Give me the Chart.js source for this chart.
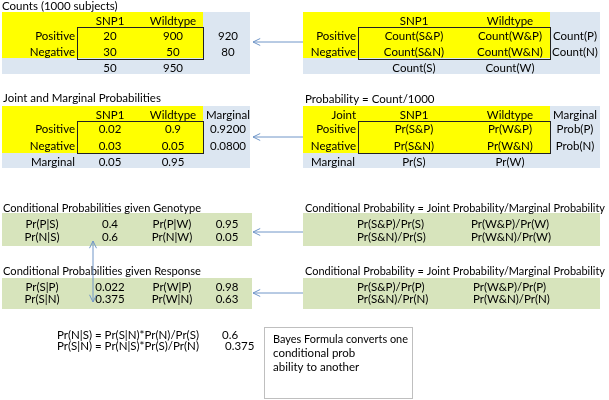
<!DOCTYPE html>
<html><head><meta charset="utf-8">
<script src="https://cdn.jsdelivr.net/npm/chart.js@4"></script>
<style>html,body{margin:0;padding:0;background:#fff}#wrap{width:609px;height:400px}</style>
</head><body><div id="wrap"><canvas id="c" width="609" height="400"></canvas></div>
<script>
// ---- data ----
const genotypes = ['SNP1', 'Wildtype'];
const responses = ['Positive', 'Negative'];
const counts = [[20, 900], [30, 50]];
const countRowTotals = ['920', '80'];
const countColTotals = ['50', '950'];
const jointProbs = [['0.02', '0.9'], ['0.03', '0.05']];
const marginalResponse = ['0.9200', '0.0800'];
const marginalGenotype = ['0.05', '0.95'];
const countSymbols = [['Count(S&P)', 'Count(W&P)'], ['Count(S&N)', 'Count(W&N)']];
const countRowSymbols = ['Count(P)', 'Count(N)'];
const countColSymbols = ['Count(S)', 'Count(W)'];
const probSymbols = [['Pr(S&P)', 'Pr(W&P)'], ['Pr(S&N)', 'Pr(W&N)']];
const probRowSymbols = ['Prob(P)', 'Prob(N)'];
const probColSymbols = ['Pr(S)', 'Pr(W)'];
const condGenotypeLabels = [['Pr(P|S)', 'Pr(P|W)'], ['Pr(N|S)', 'Pr(N|W)']];
const condGenotypeValues = [['0.4', '0.95'], ['0.6', '0.05']];
const condResponseLabels = [['Pr(S|P)', 'Pr(W|P)'], ['Pr(S|N)', 'Pr(W|N)']];
const condResponseValues = [['0.022', '0.98'], ['0.375', '0.63']];
const condGenotypeFormulas = [['Pr(S&P)/Pr(S)', 'Pr(W&P)/Pr(W)'], ['Pr(S&N)/Pr(S)', 'Pr(W&N)/Pr(W)']];
const condResponseFormulas = [['Pr(S&P)/Pr(P)', 'Pr(W&P)/Pr(P)'], ['Pr(S&N)/Pr(N)', 'Pr(W&N)/Pr(N)']];
const bayesFormulas = ['Pr(N|S) = Pr(S|N)*Pr(N)/Pr(S)', 'Pr(S|N) = Pr(N|S)*Pr(S)/Pr(N)'];
const bayesValues = ['0.6', '0.375'];
const bayesNote = ['Bayes Formula converts one', 'conditional prob', 'ability to another'];
const titles = {
  counts: 'Counts (1000 subjects)',
  joint: 'Joint and Marginal Probabilities',
  probDef: 'Probability = Count/1000',
  condGen: 'Conditional Probabilities given Genotype',
  condResp: 'Conditional Probabilities given Response',
  condDef: 'Conditional Probability = Joint Probability/Marginal Probability'
};
const jointLabel = 'Joint';
const marginalLabel = 'Marginal';

// ---- styles ----
const YELLOW = '#ffff00', BLUE = '#dce6f1', GREEN = '#d7e4bc', ARROW = '#7096c8';
const FONT = '11.5px Lato';

const diagram = {
  id: 'diagram',
  afterDraw(chart) {
    const ctx = chart.ctx, sx = chart.scales.x, sy = chart.scales.y;
    const X = v => sx.getPixelForValue(v), Y = v => sy.getPixelForValue(v);
    const fill = (x1, y1, x2, y2, c) => { ctx.fillStyle = c; ctx.fillRect(X(x1), Y(y1), X(x2) - X(x1), Y(y2) - Y(y1)); };
    const stroke = (x1, y1, x2, y2, c, w) => { ctx.strokeStyle = c; ctx.lineWidth = w; ctx.strokeRect(X(x1) + 0.5, Y(y1) + 0.5, X(x2) - X(x1), Y(y2) - Y(y1)); };
    const T = (s, x, y, align, maxW) => {
      ctx.font = FONT; ctx.fillStyle = '#000'; ctx.textAlign = align || 'center'; ctx.textBaseline = 'middle';
      if (maxW) ctx.fillText(s, X(x), Y(y), X(maxW) - X(0)); else ctx.fillText(s, X(x), Y(y));
    };
    const head = (x, y, ang) => {
      const L = 8, a = 0.45;
      ctx.beginPath();
      ctx.moveTo(X(x) + L * Math.cos(ang + a), Y(y) + L * Math.sin(ang + a));
      ctx.lineTo(X(x), Y(y));
      ctx.lineTo(X(x) + L * Math.cos(ang - a), Y(y) + L * Math.sin(ang - a));
      ctx.stroke();
    };
    const arrow = (x1, y1, x2, y2, both) => {
      ctx.strokeStyle = ARROW; ctx.lineWidth = 1;
      ctx.beginPath(); ctx.moveTo(X(x1), Y(y1)); ctx.lineTo(X(x2), Y(y2)); ctx.stroke();
      const ang = Math.atan2(Y(y1) - Y(y2), X(x1) - X(x2));
      head(x2, y2, ang);
      if (both) head(x1, y1, ang + Math.PI);
    };
    ctx.save();

    // ---- backgrounds ----
    fill(2, 12, 250, 74, BLUE); fill(2, 12, 203, 58, YELLOW);
    fill(303, 12, 600, 74, BLUE); fill(303, 12, 550, 58, YELLOW);
    fill(2, 106, 250, 168, BLUE); fill(2, 106, 203, 153, YELLOW);
    fill(303, 106, 600, 168, BLUE); fill(303, 106, 550, 153, YELLOW);
    fill(2, 213, 252, 246, GREEN); fill(303, 213, 600, 246, GREEN);
    fill(2, 278, 252, 309, GREEN); fill(303, 278, 600, 309, GREEN);
    stroke(77, 27, 203, 59, '#222', 1); stroke(358, 27, 550, 59, '#222', 1);
    stroke(77, 121, 203, 153, '#222', 1); stroke(358, 121, 550, 153, '#222', 1);
    fill(264, 327, 412, 398, '#ffffff'); stroke(264, 327, 412, 398, '#bfbfbf', 1);

    // ---- Counts table (top-left) ----
    T(titles.counts, 2, 6, 'left');
    const cL = [110, 173];
    genotypes.forEach((g, j) => T(g, cL[j], 21));
    responses.forEach((r, i) => {
      const y = [36, 52][i];
      T(r, 75, y, 'right');
      counts[i].forEach((v, j) => T(String(v), cL[j], y));
      T(countRowTotals[i], 228, y);
    });
    countColTotals.forEach((v, j) => T(v, cL[j], 68));

    // ---- Counts symbols (top-right) ----
    const cR = [414, 510];
    genotypes.forEach((g, j) => T(g, cR[j], 21));
    responses.forEach((r, i) => {
      const y = [36, 52][i];
      T(r, 356, y, 'right');
      countSymbols[i].forEach((v, j) => T(v, cR[j], y));
      T(countRowSymbols[i], 575, y);
    });
    countColSymbols.forEach((v, j) => T(v, cR[j], 68));
    arrow(303, 42, 253, 42);

    // ---- Joint & marginal (middle-left) ----
    T(titles.joint, 3, 98, 'left');
    genotypes.forEach((g, j) => T(g, cL[j], 115));
    T(marginalLabel, 228, 115);
    responses.forEach((r, i) => {
      const y = [129, 146][i];
      T(r, 75, y, 'right');
      jointProbs[i].forEach((v, j) => T(v, cL[j], y));
      T(marginalResponse[i], 228, y);
    });
    T(marginalLabel, 53, 162);
    marginalGenotype.forEach((v, j) => T(v, cL[j], 162));

    // ---- Probability definitions (middle-right) ----
    T(titles.probDef, 305, 99, 'left');
    T(jointLabel, 356, 115, 'right');
    genotypes.forEach((g, j) => T(g, cR[j], 115));
    T(marginalLabel, 575, 115);
    responses.forEach((r, i) => {
      const y = [129, 146][i];
      T(r, 356, y, 'right');
      probSymbols[i].forEach((v, j) => T(v, cR[j], y));
      T(probRowSymbols[i], 575, y);
    });
    T(marginalLabel, 333, 162);
    probColSymbols.forEach((v, j) => T(v, cR[j], 162));
    arrow(303, 137, 253, 137);

    // ---- Conditional given genotype ----
    const cc = [42, 110, 172, 227];
    T(titles.condGen, 3, 208, 'left', 198);
    condGenotypeLabels.forEach((row, i) => {
      const y = [224, 237][i];
      row.forEach((lab, j) => { T(lab, cc[j * 2], y); T(condGenotypeValues[i][j], cc[j * 2 + 1], y); });
    });
    T(titles.condDef, 305, 208, 'left', 300);
    condGenotypeFormulas.forEach((row, i) => {
      const y = [224, 237][i];
      row.forEach((f, j) => T(f, [357, 471][j], y, 'left'));
    });
    arrow(303, 232, 253, 232);

    // ---- Conditional given response ----
    T(titles.condResp, 3, 271, 'left', 198);
    condResponseLabels.forEach((row, i) => {
      const y = [287, 299][i];
      row.forEach((lab, j) => { T(lab, cc[j * 2], y); T(condResponseValues[i][j], cc[j * 2 + 1], y); });
    });
    T(titles.condDef, 305, 271, 'left', 300);
    condResponseFormulas.forEach((row, i) => {
      const y = [287, 299][i];
      row.forEach((f, j) => T(f, [357, 473][j], y, 'left'));
    });
    arrow(303, 293, 253, 293);

    // vertical double arrow
    arrow(93, 241, 93, 302, true);

    // ---- Bayes formulas ----
    bayesFormulas.forEach((f, i) => {
      const y = [335, 346][i];
      T(f, 57, y, 'left');
      T(bayesValues[i], [222, 225][i], y, 'left');
    });
    bayesNote.forEach((s, i) => T(s, 273, [339, 353, 367][i], 'left', 135));

    ctx.restore();
  }
};

new Chart(document.getElementById('c'), {
  type: 'scatter',
  data: { datasets: [{ data: [] }] },
  options: {
    responsive: false, animation: false, devicePixelRatio: 1,
    layout: { padding: 0 },
    plugins: { legend: { display: false }, tooltip: { enabled: false } },
    scales: {
      x: { type: 'linear', min: 0, max: 609, display: false },
      y: { type: 'linear', min: 0, max: 400, reverse: true, display: false }
    }
  },
  plugins: [diagram]
});
</script>
</body></html>
